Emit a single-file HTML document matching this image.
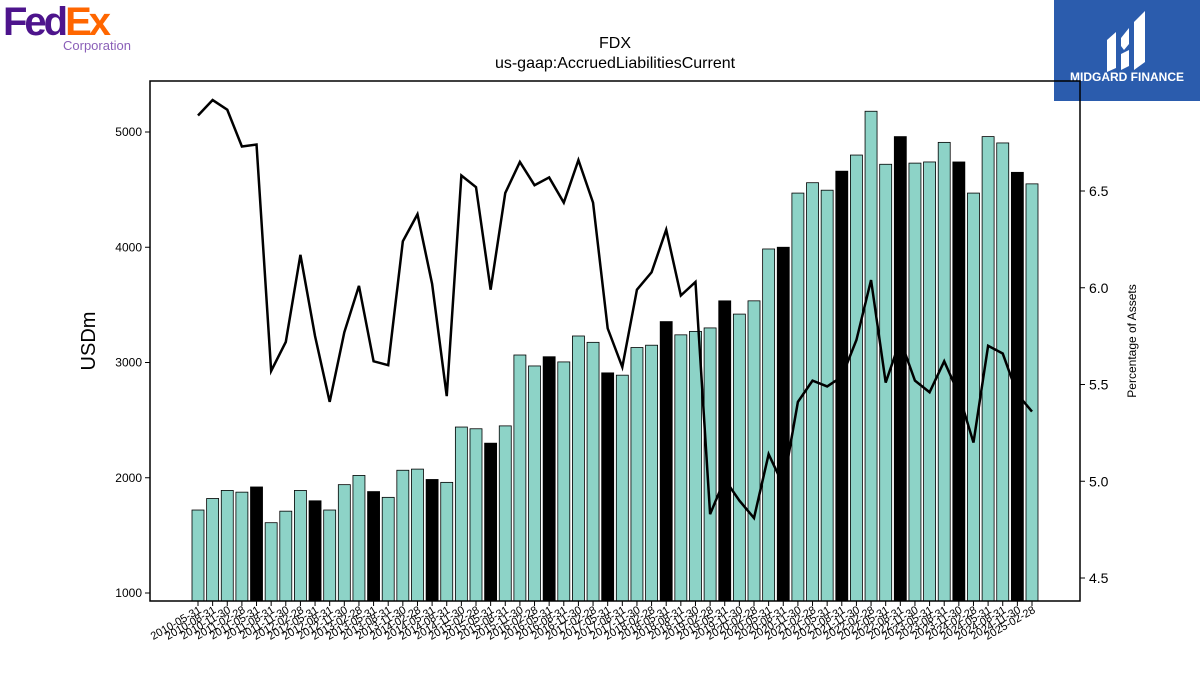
<!DOCTYPE html>
<html><head><meta charset="utf-8"><style>
body{margin:0;background:#fff;width:1200px;height:675px;overflow:hidden;font-family:"Liberation Sans",sans-serif}
svg{position:absolute;left:0;top:0}
</style></head><body>
<svg id="chart" width="1200" height="675" xmlns="http://www.w3.org/2000/svg">
<g>
<text x="3" y="35" font-size="40" font-weight="bold" fill="#4d148c" font-family="Liberation Sans,sans-serif" letter-spacing="-3">Fed<tspan fill="#ff6600">Ex</tspan></text>
<text x="63" y="50" font-size="13" fill="#8a5fb8">Corporation</text>
</g>
<g>
<rect x="1054" y="0" width="146" height="101" fill="#2b5cad"/>
<path d="M1107 40 L1116 32 L1116 68 L1107 72 Z M1121 38 L1129 28 L1129 44 L1124 50 L1121 46 Z M1121 54 L1129 50 L1129 66 L1121 70 Z M1134 22 L1145 11 L1145 62 L1134 70 Z" fill="#fff"/>
<text x="1127" y="81" font-size="12" font-weight="bold" fill="#fff" text-anchor="middle">MIDGARD FINANCE</text>
</g>
<text x="615" y="48" font-size="16" text-anchor="middle">FDX</text>
<text x="615" y="68" font-size="16" text-anchor="middle">us-gaap:AccruedLiabilitiesCurrent</text>
<text transform="translate(95,341) rotate(-90)" font-size="20" text-anchor="middle">USDm</text>
<text transform="translate(1136,341) rotate(-90)" font-size="12" text-anchor="middle">Percentage of Assets</text>
<g id="plot"></g>
<rect x="150" y="81" width="930" height="520" fill="none" stroke="#000" stroke-width="1.5"/>
</svg>
<script>
const categories=(function(){const q=["05-31","08-31","11-30","02-28"];const out=[];let y=2010,i=0;while(out.length<60){const yr=(i%4===3)?y+1:y;out.push(yr+"-"+q[i%4]);i++;if(i%4===0)y++;}return out.filter((d,k)=>k!==37&&k!==51);})();
const values=[1720,1820,1890,1875,1920,1610,1710,1890,1800,1720,1940,2020,1880,1830,2065,2075,1985,1960,2440,2425,2300,2450,3065,2970,3050,3005,3230,3175,2910,2890,3130,3150,3355,3240,3270,3300,3535,3420,3535,3985,4000,4470,4560,4495,4660,4800,5180,4720,4960,4730,4740,4910,4740,4470,4960,4905,4650,4550];
const pct=[6.89,6.97,6.92,6.73,6.74,5.57,5.72,6.17,5.75,5.41,5.77,6.01,5.62,5.60,6.24,6.38,6.02,5.44,6.58,6.52,5.99,6.49,6.65,6.53,6.57,6.44,6.66,6.44,5.79,5.59,5.99,6.08,6.30,5.96,6.03,4.83,5.01,4.90,4.81,5.14,4.98,5.41,5.52,5.49,5.54,5.73,6.04,5.51,5.73,5.52,5.46,5.62,5.45,5.20,5.70,5.66,5.45,5.36];
const leftTicks=[1000,2000,3000,4000,5000];
const rightTicks=[4.5,5.0,5.5,6.0,6.5];
const NS="http://www.w3.org/2000/svg";
const g=document.getElementById('plot');
const xS=i=>198+i*(1032-198)/(values.length-1);
const yL=v=>593-(v-1000)*0.11525;
const yR=v=>578-(v-4.5)*193.5;
function mk(t,a){const e=document.createElementNS(NS,t);for(const k in a)e.setAttribute(k,a[k]);g.appendChild(e);return e;}
const bw=12;
values.forEach((v,i)=>{
 const r=mk('rect',{x:xS(i)-bw/2,y:yL(v),width:bw,height:601-yL(v),fill:(i%4===0&&i>0)?'#000':'#8dd3c7',stroke:'#000','stroke-width':0.8});
 
 
 const t=mk('line',{x1:xS(i),x2:xS(i),y1:601,y2:606,stroke:'#000'});
 
 
 const l=mk('text',{transform:`translate(${xS(i)+4},612) rotate(-30)`,'font-size':11,'text-anchor':'end'});
 l.textContent=categories[i];
 
 
});
const p=mk('polyline',{points:pct.map((v,i)=>xS(i)+','+yR(v)).join(' '),fill:'none',stroke:'#000','stroke-width':2.5});


leftTicks.forEach(v=>{
 const t=mk('line',{x1:145,x2:150,y1:yL(v),y2:yL(v),stroke:'#000'});
 
 
 const l=mk('text',{x:142,y:yL(v)+4,'font-size':12,'text-anchor':'end'});
 l.textContent=v;
 
 
});
rightTicks.forEach(v=>{
 const t=mk('line',{x1:1080,x2:1085,y1:yR(v),y2:yR(v),stroke:'#000'});
 
 
 const l=mk('text',{x:1089,y:yR(v)+5,'font-size':14});
 l.textContent=v.toFixed(1);
 
 
});
</script>
</body></html>
